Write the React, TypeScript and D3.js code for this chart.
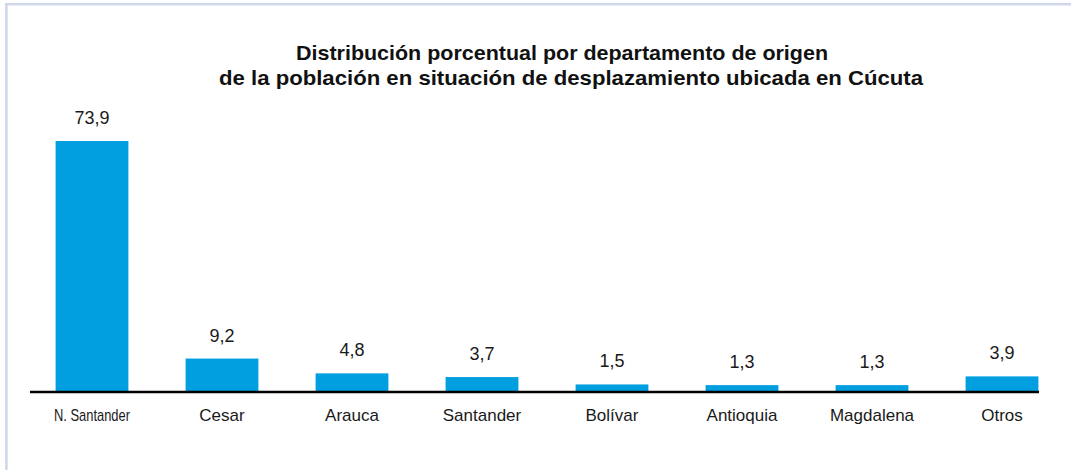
import React from 'react';
import * as d3 from 'd3';

const categories = ['N. Santander', 'Cesar', 'Arauca', 'Santander', 'Bolívar', 'Antioquia', 'Magdalena', 'Otros'];
const values = [73.9, 9.2, 4.8, 3.7, 1.5, 1.3, 1.3, 3.9];
const titleLines = [
    'Distribución porcentual por departamento de origen',
    'de la población en situación de desplazamiento ubicada en Cúcuta',
];

const width = 1071;
const height = 470;
const baseY = 392;
const barColor = '#019fe0';
const font = '"Liberation Sans", Arial, sans-serif';

const App: React.FC = () => {
    const x = d3.scaleBand<string>()
        .domain(categories)
        .range([27, 1067])
        .paddingInner(0.44)
        .paddingOuter(0.22);

    const y = d3.scaleLinear()
        .domain([0, 73.9])
        .range([389.5, 141]);

    const fmt = (v: number) => v.toFixed(1).replace('.', ',');

    return (
        <svg width={width} height={height} style={{ position: 'absolute', left: 0, top: 0 }}>
            <rect x={0} y={0} width={width} height={height} fill="#fff" />
            {/* frame: top and left only */}
            <line x1={5} x2={width} y1={4.3} y2={4.3} stroke="#cfd8ea" strokeWidth={2.6} />
            <line x1={6.4} x2={6.4} y1={3} y2={height} stroke="#cfd8ea" strokeWidth={2.6} />

            <text x={296} y={60} fontFamily={font} fontWeight="bold" fontSize={21} fill="#111"
                textLength={532} lengthAdjust="spacingAndGlyphs">{titleLines[0]}</text>
            <text x={219} y={85} fontFamily={font} fontWeight="bold" fontSize={21} fill="#111"
                textLength={704} lengthAdjust="spacingAndGlyphs">{titleLines[1]}</text>

            {categories.map((c, i) => {
                const cx = (x(c) ?? 0) + x.bandwidth() / 2;
                const isFirst = i === 0;
                return (
                    <g key={c}>
                        <rect x={x(c)} y={y(values[i])} width={x.bandwidth()} height={baseY - y(values[i])} fill={barColor} />
                        <text x={cx} y={y(values[i]) - 17} textAnchor="middle" fontFamily={font} fontSize={18} fill="#1a1a1a">
                            {fmt(values[i])}
                        </text>
                        <text x={cx} y={421} textAnchor="middle" fontFamily={isFirst ? '"Liberation Sans Narrow", ' + font : font}
                            fontSize={17} fill="#1a1a1a"
                            {...(isFirst ? { textLength: 76, lengthAdjust: 'spacingAndGlyphs' } : {})}>
                            {c}
                        </text>
                    </g>
                );
            })}

            <line x1={30} x2={1039} y1={baseY} y2={baseY} stroke="#000" strokeWidth={2.7} />
        </svg>
    );
};

export default App;
